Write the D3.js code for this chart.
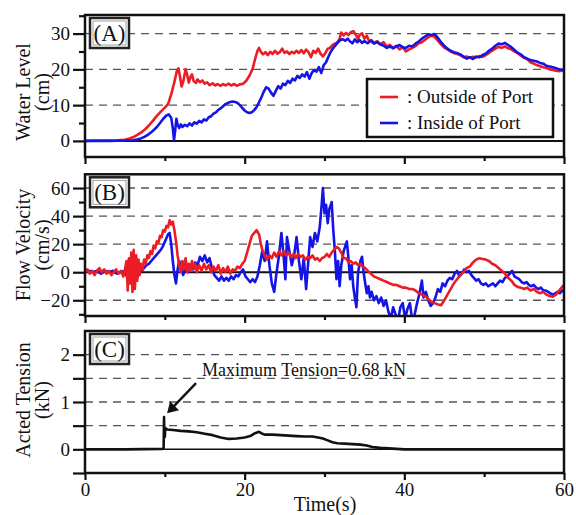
<!DOCTYPE html>
<html lang="en">
<head>
<meta charset="utf-8">
<title>Water level, flow velocity and tension</title>
<script src="https://cdn.jsdelivr.net/npm/d3@7/dist/d3.min.js"></script>
<style>
  body { margin: 0; background: #fff; }
  svg text { font-family: "Liberation Serif", "Times New Roman", serif; fill: #111; }
</style>
</head>
<body>
<div id="chart"></div>
<script>
// ---- data: [time (s), value] ----
const levelOutside = [[0,0],[2,0.1],[4,0.2],[5,0.3],[5.5,0.6],[6,1.0],[6.5,1.6],[7,2.3],[7.5,3.2],[8,4.3],[8.5,5.6],[9,7.0],[9.5,8.2],[10,9.3],[10.4,10.3],[10.8,13],[11.2,16.5],[11.5,19.5],[11.7,20.3],[11.9,18],[12.1,15.2],[12.3,16.5],[12.6,20],[12.8,18.5],[13.0,16.3],[13.2,17.8],[13.4,18.6],[13.6,16.8],[13.9,16.2],[14.1,17.2],[14.4,16.4],[14.7,16.9],[15.0,16.0],[15.3,16.4],[15.6,15.6],[16.0,16.1],[16.3,15.5],[16.6,15.9],[17.0,15.4],[17.3,15.9],[17.6,15.5],[18.0,16.0],[18.3,15.5],[18.7,15.9],[19.0,15.4],[19.4,15.8],[19.8,16.0],[20.2,16.8],[20.6,18.2],[21.0,20.2],[21.3,22.8],[21.6,25.2],[21.8,26.0],[22.0,25.0],[22.3,24.2],[22.6,24.8],[22.9,24.0],[23.2,24.9],[23.5,24.3],[23.8,25.2],[24.1,24.4],[24.4,24.8],[24.7,25.8],[25.0,24.6],[25.3,25.0],[25.6,24.3],[25.9,24.9],[26.2,24.5],[26.5,25.2],[26.8,24.6],[27.1,25.4],[27.4,24.5],[27.7,25.5],[28.0,24.8],[28.3,23.4],[28.6,25.2],[28.9,24.6],[29.2,25.8],[29.5,24.4],[29.8,23.6],[30.1,24.5],[30.4,25.8],[30.7,26.0],[31.0,26.8],[31.3,27.2],[31.6,27.5],[31.9,28.6],[32.1,30.3],[32.4,29.5],[32.7,30.2],[33.0,29.6],[33.3,30.4],[33.6,30.7],[33.9,29.8],[34.2,28.5],[34.4,29.6],[34.7,30.1],[35.0,28.6],[35.3,29.4],[35.6,27.8],[35.9,28.2],[36.2,27.4],[36.6,27.9],[37.0,27.0],[37.4,27.6],[37.8,26.4],[38.2,26.8],[38.6,26.0],[39.0,26.6],[39.4,25.6],[39.8,26.2],[40.2,25.0],[40.6,25.6],[41.0,26.0],[41.4,26.5],[41.8,27.3],[42.2,27.6],[42.6,28.3],[43.0,29.0],[43.4,29.4],[43.8,29.1],[44.2,28.0],[44.6,27.0],[45.0,26.1],[45.4,25.6],[45.8,25.0],[46.2,24.6],[46.6,24.3],[47.0,24.0],[47.4,23.4],[47.8,23.6],[48.2,23.2],[48.6,23.5],[49.0,23.3],[49.4,23.7],[49.8,23.5],[50.2,24.0],[50.6,24.6],[51.0,25.2],[51.4,25.8],[51.8,26.3],[52.2,26.0],[52.6,26.4],[53.0,25.9],[53.4,25.6],[53.8,25.0],[54.2,24.6],[54.6,23.8],[55.0,23.2],[55.4,22.8],[55.8,22.0],[56.2,21.6],[56.6,21.2],[57.0,20.9],[57.4,20.6],[57.8,20.4],[58.2,20.0],[58.6,19.8],[59.0,19.6],[59.4,19.5],[60,19.8]];

const levelInside = [[0,0],[3,0],[5,0.1],[6,0.2],[6.5,0.4],[7,0.7],[7.5,1.2],[8,1.9],[8.5,2.8],[9,3.9],[9.4,5.0],[9.8,6.2],[10.2,7.1],[10.5,7.4],[10.8,6.5],[11.0,3.5],[11.15,0.2],[11.3,3.0],[11.45,6.2],[11.6,4.5],[11.8,3.6],[12.0,4.6],[12.2,3.9],[12.5,4.5],[12.8,4.1],[13.1,4.9],[13.4,4.3],[13.7,5.2],[14.0,4.8],[14.3,5.6],[14.6,5.2],[14.9,6.0],[15.2,5.7],[15.5,6.6],[15.8,6.9],[16.1,7.6],[16.4,8.0],[16.7,8.7],[17.0,9.1],[17.3,9.7],[17.6,10.3],[17.9,10.6],[18.2,10.9],[18.5,11.0],[18.8,10.9],[19.1,10.6],[19.4,10.0],[19.7,9.2],[20.0,8.5],[20.3,8.0],[20.6,7.8],[20.9,8.0],[21.2,8.6],[21.5,9.5],[21.8,10.8],[22.1,12.2],[22.4,13.8],[22.7,15.0],[23.0,14.6],[23.3,13.5],[23.6,12.6],[23.9,14.0],[24.2,15.3],[24.5,14.6],[24.8,16.0],[25.1,15.6],[25.4,16.8],[25.7,16.2],[26.0,17.4],[26.3,16.9],[26.6,18.2],[26.9,17.6],[27.2,18.6],[27.5,18.0],[27.8,19.2],[28.1,17.4],[28.4,19.0],[28.7,19.8],[29.0,19.4],[29.3,20.6],[29.6,19.0],[29.9,21.2],[30.2,22.0],[30.5,23.6],[30.8,25.0],[31.1,26.0],[31.4,26.8],[31.7,27.6],[32.0,28.2],[32.3,28.4],[32.6,28.0],[32.9,28.6],[33.2,27.8],[33.5,27.3],[33.8,28.4],[34.1,27.6],[34.4,28.2],[34.7,27.4],[35.0,27.9],[35.4,27.3],[35.8,28.0],[36.2,27.2],[36.6,27.6],[37.0,27.0],[37.4,26.6],[37.8,26.0],[38.2,26.4],[38.6,25.9],[39.0,26.4],[39.4,26.8],[39.8,26.2],[40.2,26.0],[40.6,26.6],[41.0,26.4],[41.4,27.2],[41.8,27.8],[42.2,28.6],[42.6,29.2],[43.0,29.8],[43.4,29.6],[43.8,29.9],[44.2,28.8],[44.6,27.6],[45.0,26.6],[45.4,25.8],[45.8,25.2],[46.2,24.8],[46.6,24.6],[47.0,24.2],[47.4,23.6],[47.8,23.0],[48.2,23.4],[48.6,22.9],[49.0,23.6],[49.4,23.4],[49.8,24.0],[50.2,24.4],[50.6,25.2],[51.0,25.8],[51.4,26.6],[51.8,27.2],[52.2,27.0],[52.6,27.4],[53.0,26.8],[53.4,26.2],[53.8,25.4],[54.2,24.6],[54.6,24.2],[55.0,23.4],[55.4,23.0],[55.8,22.6],[56.2,22.4],[56.6,22.2],[57.0,21.8],[57.4,21.6],[57.8,21.0],[58.2,20.8],[58.6,20.6],[59.0,20.3],[59.4,20.0],[60,19.8]];

const velOutside = [[0,0],[0.3,2],[0.6,-1],[0.9,1],[1.2,-2],[1.5,1],[1.8,3],[2.1,0],[2.4,2],[2.7,-1],[3.0,1],[3.3,-2],[3.6,0],[3.9,2],[4.2,-1],[4.5,1],[4.8,-3],[5.0,2],[5.2,8],[5.35,-13],[5.5,10],[5.65,-8],[5.8,14],[5.95,-14],[6.1,16],[6.25,-12],[6.4,12],[6.55,-6],[6.7,9],[6.85,-2],[7.0,6],[7.2,2],[7.4,9],[7.6,6],[7.8,12],[8.0,10],[8.2,15],[8.4,13],[8.6,19],[8.8,17],[9.0,22],[9.2,21],[9.4,26],[9.6,25],[9.8,30],[10.0,29],[10.2,33],[10.4,32],[10.6,37],[10.8,34],[11.0,36],[11.2,30],[11.4,22],[11.6,12],[11.8,5],[12.0,0],[12.2,8],[12.4,2],[12.6,10],[12.8,0],[13.0,6],[13.2,1],[13.4,8],[13.6,2],[13.8,6],[14.0,0],[14.3,5],[14.6,1],[14.9,6],[15.2,2],[15.5,5],[15.8,0],[16.1,4],[16.4,1],[16.7,5],[17.0,-1],[17.3,3],[17.6,0],[17.9,4],[18.2,-1],[18.5,2],[18.8,1],[19.1,4],[19.4,3],[19.7,6],[20.0,8],[20.3,14],[20.6,20],[20.9,26],[21.2,28],[21.5,30],[21.8,27],[22.0,21],[22.2,16],[22.5,12],[22.8,9],[23.1,12],[23.4,10],[23.7,14],[24.0,11],[24.3,15],[24.6,12],[24.9,15],[25.2,12],[25.5,14],[25.8,11],[26.1,13],[26.4,10],[26.7,13],[27.0,11],[27.3,12],[27.6,9],[27.9,11],[28.2,10],[28.5,12],[28.8,9],[29.1,10],[29.4,8],[29.7,10],[30.0,11],[30.3,13],[30.6,11],[30.9,14],[31.2,16],[31.5,18],[31.8,17],[32.1,14],[32.4,10],[32.7,10],[33.0,7],[33.3,8],[33.6,6],[33.9,7],[34.2,5],[34.5,6],[34.8,4],[35.1,3],[35.4,1],[35.8,-1],[36.2,-3],[36.6,-4],[37.0,-5],[37.4,-6],[37.8,-7],[38.2,-8],[38.6,-9],[39.0,-9],[39.4,-10],[39.8,-11],[40.2,-11],[40.6,-12],[41.0,-12],[41.4,-13],[41.8,-15],[42.2,-16],[42.6,-17],[43.0,-19],[43.4,-21],[43.8,-22],[44.2,-23],[44.6,-23.5],[45.0,-20],[45.4,-16],[45.8,-12],[46.2,-8],[46.6,-5],[47.0,-2],[47.4,0],[47.8,3],[48.2,4],[48.6,7],[49.0,9],[49.4,10],[49.8,9.5],[50.2,9],[50.6,8],[51.0,6],[51.4,5],[51.8,3],[52.2,1],[52.6,-1],[53.0,-4],[53.4,-6],[53.8,-9],[54.2,-10.5],[54.6,-11],[55.0,-12],[55.4,-11],[55.8,-13],[56.2,-12],[56.6,-14],[57.0,-15],[57.4,-14],[57.8,-16],[58.2,-17],[58.6,-17.5],[59.0,-16],[59.4,-13],[59.7,-11],[60,-9]];

const velInside = [[0,0],[0.5,1],[1,0],[1.5,1],[2,-1],[2.5,1],[3,0],[3.5,1],[4,-1],[4.5,0],[5,1],[5.3,-4],[5.6,4],[5.9,-5],[6.2,3],[6.5,-4],[6.8,-1],[7.1,1],[7.4,3],[7.7,5],[8.0,6],[8.3,8],[8.6,10],[8.9,12],[9.2,14],[9.5,16],[9.8,19],[10.1,23],[10.4,27],[10.6,28],[10.8,20],[11.0,8],[11.2,-2],[11.4,-8],[11.6,2],[11.8,8],[12.0,4],[12.3,-2],[12.6,3],[12.9,0],[13.2,5],[13.5,2],[13.8,7],[14.1,5],[14.4,11],[14.7,8],[15.0,12],[15.3,7],[15.6,10],[15.9,3],[16.2,-2],[16.5,-4],[16.8,-6],[17.1,-3],[17.4,-6],[17.7,-4],[18.0,-6],[18.3,-3],[18.6,-5],[18.9,-2],[19.2,-3],[19.5,0],[19.8,2],[20.1,-3],[20.4,-5],[20.7,-7],[21.0,-5],[21.3,-7],[21.6,-3],[21.9,5],[22.2,15],[22.5,8],[22.8,22],[23.1,5],[23.4,-8],[23.7,-14],[24.0,0],[24.3,12],[24.6,28],[24.9,10],[25.1,-5],[25.3,25],[25.6,15],[25.9,5],[26.2,12],[26.5,25],[26.8,8],[27.1,-5],[27.4,10],[27.7,-12],[28.0,10],[28.2,25],[28.5,18],[28.8,28],[29.1,22],[29.4,32],[29.6,45],[29.8,60],[30.0,42],[30.2,48],[30.4,35],[30.6,45],[30.9,50],[31.1,30],[31.3,15],[31.5,-5],[31.7,8],[31.9,-10],[32.1,5],[32.4,15],[32.8,22],[33.0,10],[33.2,-5],[33.4,5],[33.6,-10],[33.8,-18],[34.0,-25],[34.2,0],[34.5,8],[34.7,11],[34.9,0],[35.1,-8],[35.3,-15],[35.5,-10],[35.7,-18],[35.9,-14],[36.2,-20],[36.5,-17],[36.8,-22],[37.1,-18],[37.4,-24],[37.7,-20],[38.0,-28],[38.3,-33],[38.6,-25],[38.9,-30],[39.2,-35],[39.5,-25],[39.8,-22],[40.1,-33],[40.4,-26],[40.7,-22],[41.0,-35],[41.3,-30],[41.6,-22],[41.9,-15],[42.2,-6],[42.4,-18],[42.7,-14],[43.0,-20],[43.3,-24],[43.6,-22],[43.9,-18],[44.2,-12],[44.5,-14],[44.8,-8],[45.1,-10],[45.4,-6],[45.7,-4],[46.0,-5],[46.3,-1],[46.6,1],[46.9,-3],[47.2,-1],[47.5,2],[47.8,0],[48.1,1],[48.4,-2],[48.7,-4],[49.0,-6],[49.3,-5],[49.6,-8],[49.9,-9],[50.2,-8],[50.5,-10],[50.8,-9],[51.1,-8],[51.4,-10],[51.7,-8],[52.0,-6],[52.3,-7],[52.6,-4],[52.9,-3],[53.2,-1],[53.5,1],[53.8,-3],[54.1,-4],[54.4,-5],[54.7,-7],[55.0,-8],[55.3,-7],[55.6,-9],[55.9,-10],[56.2,-9],[56.5,-11],[56.8,-12],[57.1,-11],[57.4,-13],[57.7,-13],[58.0,-14],[58.3,-15],[58.6,-16],[58.9,-15],[59.2,-14],[59.5,-15],[59.8,-13],[60,-14]];

const tension = [[0,0],[5,0],[9.7,0.01],[9.85,0.02],[9.9,0.68],[9.95,0.3],[10.0,0.26],[10.05,0.45],[10.3,0.42],[11,0.41],[12,0.39],[13,0.38],[14,0.36],[15,0.33],[16,0.3],[17,0.25],[18,0.22],[19,0.23],[20,0.25],[20.7,0.28],[21.3,0.34],[21.8,0.37],[22.2,0.33],[22.6,0.31],[23.5,0.31],[24.5,0.3],[25.5,0.29],[26.5,0.28],[27.5,0.27],[28.5,0.27],[29.2,0.25],[29.8,0.23],[30.4,0.19],[31,0.15],[31.6,0.13],[32.5,0.12],[33.5,0.11],[34.5,0.1],[35.3,0.08],[36,0.05],[37,0.03],[38,0.02],[39,0.01],[40,0],[45,0],[50,0],[60,0]];

const maxTension = { t: 9.9, value: 0.68 };

// axis ticks
const timeMajor = [0, 20, 40, 60];
const timeMinor = [10, 30, 50];
const levelTicks = [0, 10, 20, 30], levelMinor = [-5, 5, 15, 25, 35], levelGrid = [10, 20, 30];
const velTicks = [-20, 0, 20, 40, 60], velMinor = [-30, -10, 10, 30, 50], velGrid = [-20, 20, 40, 60];
const tenTicks = [0, 1, 2], tenMinor = [-0.5, 0.5, 1.5], tenGrid = [0.5, 1, 1.5, 2];

const legendLabels = [": Outside of Port", ": Inside of Port"];
const RED = "#ec1c24", BLUE = "#1414e6";

const W = 576, H = 515;
const svg = d3.select("#chart").append("svg")
    .attr("width", W).attr("height", H);

const x = d3.scaleLinear().domain([0, 60]).range([85, 564]);

const panels = [
    { id: "A", top: 15, bottom: 157, domain: [-4.5, 35.2], ticks: levelTicks, minor: levelMinor, grid: levelGrid,
      title: ["Water Level", "(cm)"], titleY: 92,
      series: [{ data: levelOutside, color: RED }, { data: levelInside, color: BLUE }], zeroWidth: 2 },
    { id: "B", top: 174.3, bottom: 316, domain: [-31.2, 69.8], ticks: velTicks, minor: velMinor, grid: velGrid,
      title: ["Flow Velocity", "(cm/s)"], titleY: 245,
      series: [{ data: velInside, color: BLUE }, { data: velOutside, color: RED }], zeroWidth: 2 },
    { id: "C", top: 331, bottom: 473, domain: [-0.5, 2.5], ticks: tenTicks, minor: tenMinor, grid: tenGrid,
      title: ["Acted Tension", "(kN)"], titleY: 400,
      series: [{ data: tension, color: "#111" }], zeroWidth: 1.5 }
];

panels.forEach((p) => {
    const y = d3.scaleLinear().domain(p.domain).range([p.bottom, p.top]);
    p.y = y;
    const g = svg.append("g");

    g.append("clipPath").attr("id", "clip" + p.id)
        .append("rect")
        .attr("x", x.range()[0]).attr("y", p.top)
        .attr("width", x.range()[1] - x.range()[0]).attr("height", p.bottom - p.top);

    // dashed grid
    g.selectAll(".grid").data(p.grid).enter().append("line")
        .attr("x1", x.range()[0]).attr("x2", x.range()[1])
        .attr("y1", (d) => y(d)).attr("y2", (d) => y(d))
        .attr("stroke", "#555").attr("stroke-width", 1.4)
        .attr("stroke-dasharray", "8,6");

    // zero line
    g.append("line")
        .attr("x1", x.range()[0]).attr("x2", x.range()[1])
        .attr("y1", y(0)).attr("y2", y(0))
        .attr("stroke", "#111").attr("stroke-width", p.zeroWidth);

    const line = d3.line().x((d) => x(d[0])).y((d) => y(d[1]));
    p.series.forEach((s) => {
        g.append("path")
            .attr("clip-path", "url(#clip" + p.id + ")")
            .attr("d", line(s.data))
            .attr("fill", "none")
            .attr("stroke", s.color)
            .attr("stroke-width", 2.6)
            .attr("stroke-linejoin", "round");
    });

    // y axis: major + minor
    const yAxis = g.append("g").attr("transform", "translate(" + x.range()[0] + ",0)")
        .call(d3.axisLeft(y).tickValues(p.ticks).tickSize(12).tickPadding(3)
            .tickFormat(d3.format("d")));
    const yMinor = g.append("g").attr("transform", "translate(" + x.range()[0] + ",0)")
        .call(d3.axisLeft(y).tickValues(p.minor.filter((v) => v >= p.domain[0] && v <= p.domain[1]))
            .tickSize(p.id === "C" ? 12 : 6).tickFormat(""));

    // x axis ticks below the frame
    const xAxis = g.append("g").attr("transform", "translate(0," + p.bottom + ")")
        .call(d3.axisBottom(x).tickValues(timeMajor).tickSize(7).tickPadding(3)
            .tickFormat(p.id === "C" ? d3.format("d") : ""));
    const xMinor = g.append("g").attr("transform", "translate(0," + p.bottom + ")")
        .call(d3.axisBottom(x).tickValues(timeMinor).tickSize(4).tickFormat(""));

    [yAxis, yMinor, xAxis, xMinor].forEach((a) => {
        a.select(".domain").remove();
        a.selectAll(".tick line").attr("stroke", "#111").attr("stroke-width", 2.2);
        a.selectAll(".tick text")
            .style("font-family", "'Liberation Serif', serif")
            .style("font-size", "19px").attr("fill", "#111");
    });

    // frame
    g.append("rect")
        .attr("x", x.range()[0]).attr("y", p.top)
        .attr("width", x.range()[1] - x.range()[0]).attr("height", p.bottom - p.top)
        .attr("fill", "none").attr("stroke", "#111").attr("stroke-width", 2.5);

    // panel label box
    const bx = x.range()[0] + 5, by = p.top + 3;
    g.append("rect").attr("x", bx).attr("y", by).attr("width", 39).attr("height", 30)
        .attr("fill", "#fff").attr("stroke", "#222").attr("stroke-width", 2.5);
    g.append("rect").attr("x", bx + 3).attr("y", by + 3).attr("width", 33).attr("height", 24)
        .attr("fill", "none").attr("stroke", "#888").attr("stroke-width", 0.8);
    g.append("text").attr("x", bx + 19.5).attr("y", by + 23)
        .attr("text-anchor", "middle").style("font-size", "23px")
        .text("(" + p.id + ")");

    // y title, two rotated lines
    [[30, p.title[0]], [49, p.title[1]]].forEach(([bx2, t]) => {
        g.append("text")
            .attr("transform", "translate(" + bx2 + "," + p.titleY + ") rotate(-90)")
            .attr("text-anchor", "middle")
            .style("font-size", "20px")
            .text(t);
    });
});

// x title
svg.append("text").attr("x", 325).attr("y", 511)
    .attr("text-anchor", "middle").style("font-size", "20px").text("Time(s)");

// legend in panel A
const lg = svg.append("g").attr("transform", "translate(367,79)");
lg.append("rect").attr("width", 186).attr("height", 58)
    .attr("fill", "#fff").attr("stroke", "#111").attr("stroke-width", 2.5);
[RED, BLUE].forEach((c, i) => {
    lg.append("line").attr("x1", 13).attr("x2", 31)
        .attr("y1", 18 + i * 26).attr("y2", 18 + i * 26)
        .attr("stroke", c).attr("stroke-width", 2.6);
    lg.append("text").attr("x", 40).attr("y", 24 + i * 26)
        .style("font-size", "19px").text(legendLabels[i]);
});

// annotation for maximum tension
const pc = panels[2];
const tipX = x(maxTension.t) + 3, tipY = pc.y(maxTension.value) - 4;
const tailX = tipX + 29, tailY = tipY - 30;
svg.append("line").attr("x1", tailX).attr("y1", tailY)
    .attr("x2", tipX + 5).attr("y2", tipY - 5)
    .attr("stroke", "#111").attr("stroke-width", 2.4);
svg.append("path")
    .attr("d", "M" + tipX + "," + tipY +
        "L" + (tipX + 3) + "," + (tipY - 12) +
        "L" + (tipX + 12) + "," + (tipY - 3) + "Z")
    .attr("fill", "#111");
svg.append("text").attr("x", tailX + 6).attr("y", tailY - 7)
    .style("font-size", "18px")
    .text("Maximum Tension=" + maxTension.value + " kN");
</script>
</body>
</html>
